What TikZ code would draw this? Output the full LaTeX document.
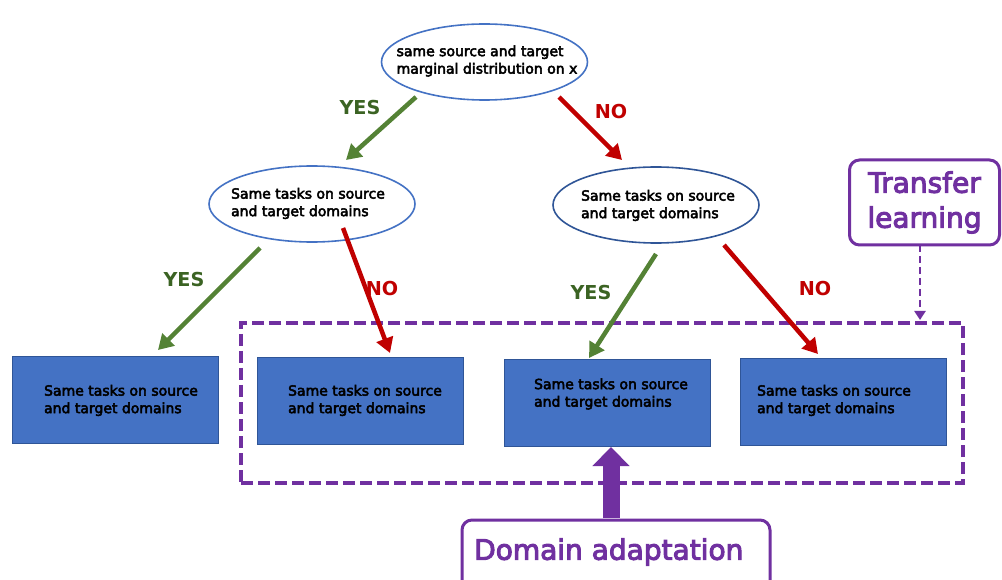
\documentclass[tikz,border=0pt]{standalone}
\usepackage{fontspec}
\setmainfont{DejaVu Sans}
\newfontfamily\semib{DejaVu Sans}[FakeBold=3.5]
\usetikzlibrary{shapes.geometric,arrows.meta}
\definecolor{eblue}{HTML}{4472C4}
\definecolor{dblue}{HTML}{2F5597}
\definecolor{agreen}{HTML}{548235}
\definecolor{tgreen}{HTML}{3B6323}
\definecolor{ared}{HTML}{C00000}
\definecolor{apurple}{HTML}{7030A0}
\tikzset{
  dec/.style={ellipse, draw=eblue, line width=1.6pt, fill=white, minimum width=206pt, minimum height=76pt, inner sep=0pt},
  leaf/.style={rectangle, draw=dblue, line width=0.8pt, fill=eblue, minimum width=206pt, minimum height=87pt, inner sep=0pt},
  txt/.style={inner sep=0pt, align=left, font=\semib\fontsize{14}{17.5}\selectfont},
  yesarr/.style={draw=agreen, line width=4.5pt, -{Triangle[length=15pt,width=17pt]}},
  noarr/.style={draw=ared, line width=4.5pt, -{Triangle[length=15pt,width=17pt]}},
  yeslbl/.style={text=tgreen, font=\fontsize{19.2}{22}\selectfont\bfseries},
  nolbl/.style={text=ared, font=\fontsize{19.2}{22}\selectfont\bfseries},
  callout/.style={draw=apurple, line width=3pt, rounded corners=10pt, fill=white, text=apurple, inner sep=0pt, font=\semib\fontsize{28}{35}\selectfont},
}
\begin{document}
\begin{tikzpicture}[x=1pt,y=-1pt]
\useasboundingbox[fill=white] (0,0) rectangle (1002,580);
% decision ellipses
\node[dec] (top) at (484.5,62) {};
\node[txt] (topt) at (487,61) {same source and target\\marginal distribution on x};
\node[dec] (left) at (312,204) {};
\node[txt] (leftt) at (308,203.5) {Same tasks on source\\and target domains};
\node[dec, draw=dblue] (right) at (656,205) {};
\node[txt] (rightt) at (658,205.5) {Same tasks on source\\and target domains};
% leaves
\node[leaf] (b1) at (115,400) {};
\node[txt] (b1t) at (121,400.5) {Same tasks on source\\and target domains};
\node[leaf] (b2) at (360,400.5) {};
\node[txt] (b2t) at (365,400.5) {Same tasks on source\\and target domains};
\node[leaf] (b3) at (607.5,402.5) {};
\node[txt] (b3t) at (611,394) {Same tasks on source\\and target domains};
\node[leaf] (b4) at (843.5,402) {};
\node[txt] (b4t) at (834,400.5) {Same tasks on source\\and target domains};
% dashed transfer learning frame
\node[draw=apurple, line width=3.2pt, dash pattern=on 12pt off 5pt, minimum width=722pt, minimum height=160pt, inner sep=0pt] (frame) at (602,403) {};
% callouts
\node[callout, minimum width=150pt, minimum height=85pt, align=center] (tl) at (924.5,202.5) {Transfer\\learning};
\node[callout, minimum width=308pt, minimum height=80pt] (da) at (616,560) {};
\node[text=apurple, font=\semib\fontsize{28}{35}\selectfont, anchor=west, inner sep=0pt] (datext) at (474,552) {Domain adaptation};
% arrows from top
\coordinate (t1) at (416,97); \coordinate (t1e) at (346,160);
\coordinate (t2) at (559,97); \coordinate (t2e) at (622,160);
\draw[yesarr] (t1) -- (t1e);
\draw[noarr] (t2) -- (t2e);
\node[yeslbl] (y1) at (360,108) {YES};
\node[nolbl] (n1) at (611,112) {NO};
% arrows from left
\coordinate (l1) at (260,248); \coordinate (l1e) at (158,350);
\coordinate (l2) at (343,228); \coordinate (l2e) at (390,353);
\draw[yesarr] (l1) -- (l1e);
\draw[noarr] (l2) -- (l2e);
\node[yeslbl] (y2) at (184,280) {YES};
\node[nolbl] (n2) at (382,289) {NO};
% arrows from right
\coordinate (r1) at (656,254); \coordinate (r1e) at (589,358);
\coordinate (r2) at (724,245); \coordinate (r2e) at (818,354);
\draw[yesarr] (r1) -- (r1e);
\draw[noarr] (r2) -- (r2e);
\node[yeslbl] (y3) at (591,293) {YES};
\node[nolbl] (n3) at (815,289) {NO};
% transfer learning dashed arrow
\coordinate (tls) at (920,245);
\coordinate (tle) at (920,320);
\draw[draw=apurple, line width=2.6pt, dash pattern=on 7pt off 4pt, -{Triangle[length=9pt,width=11pt]}] (tls) -- (tle);
% domain adaptation block arrow
\coordinate (das) at (611,518);
\coordinate (dae) at (611,447);
\draw[draw=apurple, line width=17pt, -{Triangle[length=19pt,width=36pt]}] (das) -- (dae);
\end{tikzpicture}
\end{document}
